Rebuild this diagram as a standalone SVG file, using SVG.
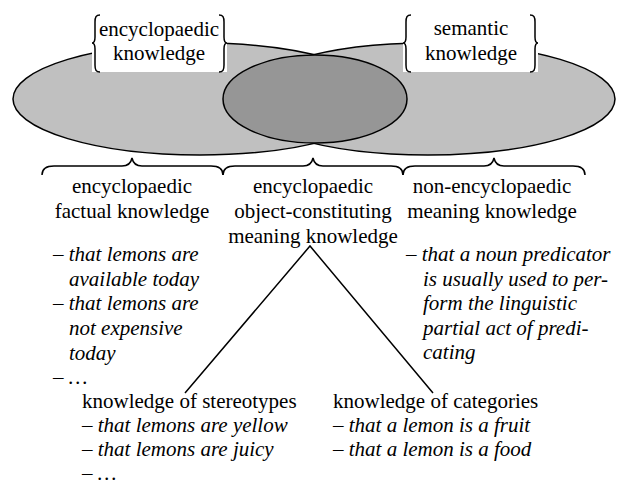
<svg xmlns="http://www.w3.org/2000/svg" width="617" height="486" viewBox="0 0 617 486">
<style>
text{font-family:"Liberation Serif","Times New Roman","DejaVu Serif",serif;font-size:21px;fill:#000}
.c{text-anchor:middle}
.i{font-style:italic}
.ln{fill:none;stroke:#000;stroke-width:1.5}
.big{fill:#c0c0c0;stroke:#000;stroke-width:1.5}
.mid{fill:#969696;stroke:#000;stroke-width:1.5}
.box{fill:#fff;stroke:none}
</style>
<rect width="617" height="486" fill="#fff"/>
<g id="ellipses">
<ellipse id="left-ellipse" class="big" cx="200" cy="99" rx="187" ry="56"/>
<ellipse id="right-ellipse" class="big" cx="428" cy="99" rx="187" ry="56"/>
<ellipse id="middle-ellipse" class="mid" cx="315" cy="99" rx="92" ry="44"/>
</g>
<g id="label-encyclopaedic">
<rect class="box" x="92" y="15" width="135" height="57"/>
<path class="ln" d="M100,15 C96,15 95,17 95,22 L95,37 C95,41 94,43 92,43 C94,43 95,45 95,49 L95,65 C95,70 96,72 100,72"/>
<path class="ln" d="M219,15 C223,15 224,17 224,22 L224,37 C224,41 225,43 227,43 C225,43 224,45 224,49 L224,65 C224,70 223,72 219,72"/>
<text class="c" x="159" y="36">encyclopaedic</text>
<text class="c" x="159" y="60">knowledge</text>
</g>
<g id="label-semantic">
<rect class="box" x="403" y="15" width="135" height="57"/>
<path class="ln" d="M411,15 C407,15 406,17 406,22 L406,37 C406,41 405,43 403,43 C405,43 406,45 406,49 L406,65 C406,70 407,72 411,72"/>
<path class="ln" d="M530,15 C534,15 535,17 535,22 L535,37 C535,41 536,43 538,43 C536,43 535,45 535,49 L535,65 C535,70 534,72 530,72"/>
<text class="c" x="471" y="35">semantic</text>
<text class="c" x="471" y="60">knowledge</text>
</g>
<g id="connectors">
<path class="ln" d="M42,175 C42,169 46,166 54,166 L122,166 C128,166 131,163 132,158 C133,163 136,166 142,166 L211,166 C219,166 223,169 223,175"/>
<path class="ln" d="M223,175 C223,169 227,166 235,166 L303,166 C309,166 312,163 313,158 C314,163 317,166 323,166 L391,166 C399,166 403,169 403,175"/>
<path class="ln" d="M403,175 C403,169 407,166 415,166 L484,166 C490,166 493,163 494,158 C495,163 498,166 504,166 L573,166 C581,166 585,169 585,175"/>
<path class="ln" d="M185,393 L310,246 L433,393"/>
</g>
<g id="factual">
<text class="c" x="132" y="193">encyclopaedic</text>
<text class="c" x="132" y="218">factual knowledge</text>
<text class="i" x="53" y="261">– that lemons are</text>
<text class="i" x="69" y="286">available today</text>
<text class="i" x="53" y="310">– that lemons are</text>
<text class="i" x="69" y="335">not expensive</text>
<text class="i" x="69" y="360">today</text>
<text class="i" x="53" y="384">– …</text>
</g>
<g id="object-constituting">
<text class="c" x="313" y="193">encyclopaedic</text>
<text class="c" x="313" y="218">object-constituting</text>
<text class="c" x="313" y="243">meaning knowledge</text>
</g>
<g id="non-encyclopaedic">
<text class="c" x="492" y="193">non-encyclopaedic</text>
<text class="c" x="492" y="218">meaning knowledge</text>
<text class="i" x="406" y="261">– that a noun predicator</text>
<text class="i" x="423" y="285.5">is usually used to per-</text>
<text class="i" x="423" y="310">form the linguistic</text>
<text class="i" x="423" y="334.5">partial act of predi-</text>
<text class="i" x="423" y="359">cating</text>
</g>
<g id="stereotypes">
<text x="82" y="408">knowledge of stereotypes</text>
<text class="i" x="82" y="432">– that lemons are yellow</text>
<text class="i" x="82" y="456">– that lemons are juicy</text>
<text class="i" x="82" y="480">– …</text>
</g>
<g id="categories">
<text x="333" y="408">knowledge of categories</text>
<text class="i" x="333" y="432">– that a lemon is a fruit</text>
<text class="i" x="333" y="456">– that a lemon is a food</text>
</g>
</svg>
